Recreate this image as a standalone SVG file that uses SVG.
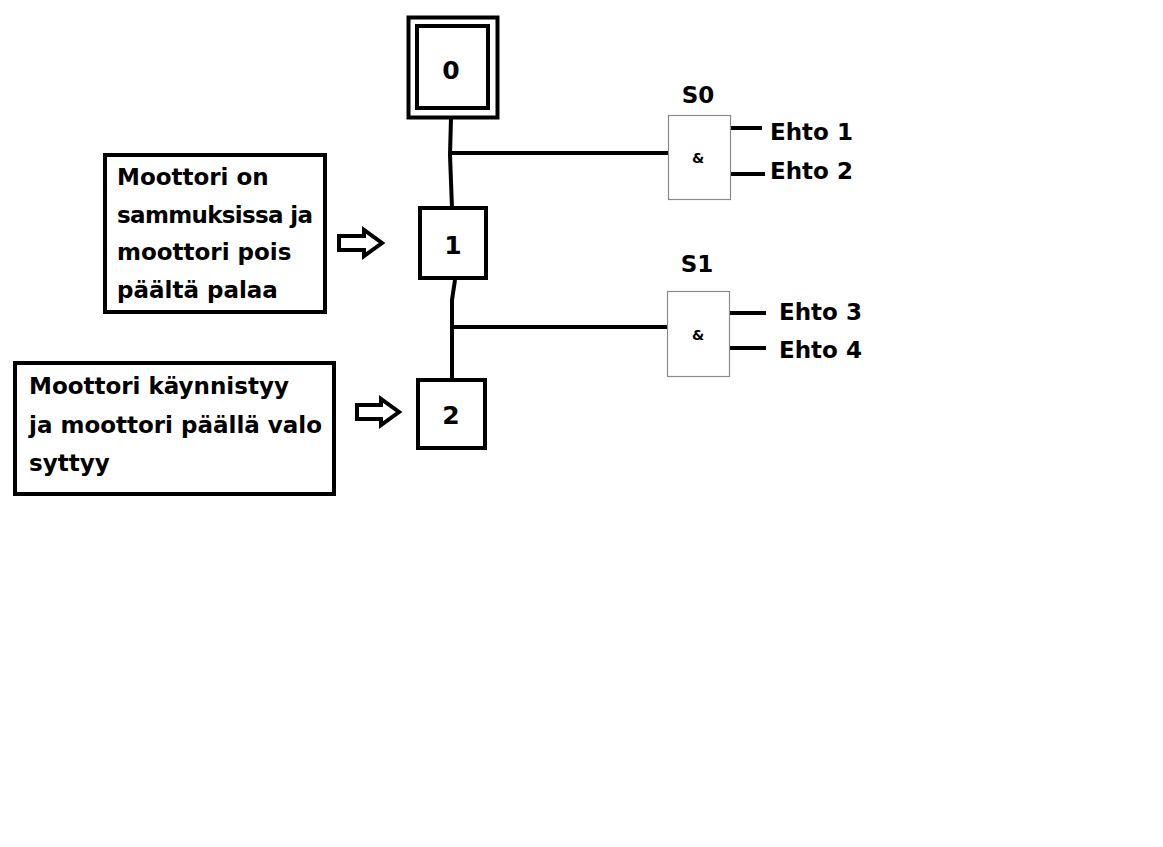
<svg xmlns="http://www.w3.org/2000/svg" width="1163" height="847" viewBox="0 0 1163 847">
<style>
.box{fill:#fff;stroke:#000;stroke-width:4}
.gate{fill:#fff;stroke:#8a8a8a;stroke-width:1.2}
.ln{stroke:#000;stroke-width:4;fill:none;stroke-linecap:butt}
.t{font-family:"DejaVu Sans","Liberation Sans",sans-serif;font-weight:bold;font-size:23px;fill:#000}
.num{font-family:"DejaVu Sans","Liberation Sans",sans-serif;font-weight:bold;font-size:25px;fill:#000;text-anchor:middle}
.amp{font-family:"DejaVu Sans",sans-serif;font-weight:bold;font-size:14px;fill:#000;text-anchor:middle}
.arrow{fill:#fff;stroke:#000;stroke-width:4;stroke-linejoin:miter}
</style>
<rect width="1163" height="847" fill="#fff"/>
<g id="connectors">
<path class="ln" d="M451 118 L450 155 L452 208"/>
<path class="ln" d="M455 280 L452 300 L452 380"/>
<path class="ln" d="M451 153 L670 153"/>
<path class="ln" d="M453 327 L668 327"/>
<path class="ln" d="M731 128 L762 128"/>
<path class="ln" d="M731 174 L765 174"/>
<path class="ln" d="M730 313 L766 313"/>
<path class="ln" d="M730 348 L766 348"/>
</g>
<g id="step0">
<rect class="box" x="408.5" y="17.5" width="89" height="100"/>
<rect class="box" x="417" y="26" width="71" height="82"/>
<text class="num" x="451" y="79">0</text>
</g>
<g id="step1">
<rect class="box" x="420" y="208" width="66" height="70"/>
<text class="num" x="453" y="254">1</text>
</g>
<g id="step2">
<rect class="box" x="418" y="380" width="67" height="68"/>
<text class="num" x="451" y="424">2</text>
</g>
<g id="gateS0">
<rect class="gate" x="668.5" y="115.5" width="62" height="84"/>
<text class="amp" x="698" y="163">&amp;</text>
<text class="t" x="698" y="103" text-anchor="middle" font-size="22">S0</text>
<text class="t" x="770" y="140">Ehto 1</text>
<text class="t" x="770" y="179">Ehto 2</text>
</g>
<g id="gateS1">
<rect class="gate" x="667.5" y="291.5" width="62" height="85"/>
<text class="amp" x="698" y="340">&amp;</text>
<text class="t" x="697" y="272" text-anchor="middle" font-size="22">S1</text>
<text class="t" x="779" y="320">Ehto 3</text>
<text class="t" x="779" y="358">Ehto 4</text>
</g>
<g id="note1">
<rect class="box" x="105" y="155" width="220" height="157"/>
<text class="t" x="117" y="185">Moottori on</text>
<text class="t" x="117" y="223" textLength="196" lengthAdjust="spacing">sammuksissa ja</text>
<text class="t" x="117" y="260">moottori pois</text>
<text class="t" x="117" y="298">päältä palaa</text>
</g>
<g id="arrow1">
<path class="arrow" d="M339 236 L364 236 L364 230 L382 243 L364 256 L364 250 L339 250 Z"/>
</g>
<g id="note2">
<rect class="box" x="15" y="363" width="319" height="131"/>
<text class="t" x="29" y="394">Moottori käynnistyy</text>
<text class="t" x="29" y="433">ja moottori päällä valo</text>
<text class="t" x="29" y="471">syttyy</text>
</g>
<g id="arrow2">
<path class="arrow" d="M357 405 L381 405 L381 399 L399 412 L381 425 L381 419 L357 419 Z"/>
</g>
</svg>
